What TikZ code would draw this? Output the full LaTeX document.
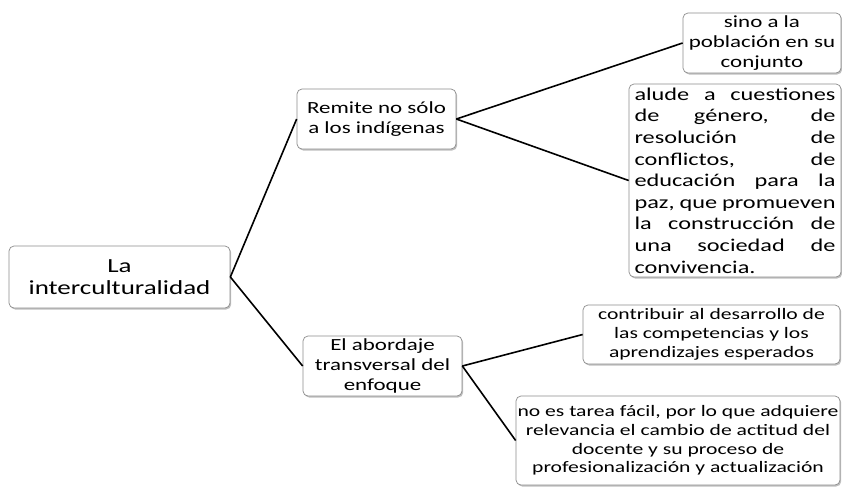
\documentclass[tikz,border=0pt]{standalone}
\usepackage{fontspec}
\setmainfont{Carlito}[FakeStretch=1.35]
\usetikzlibrary{shadows}
\tikzset{
  box/.style={draw=black!45, line width=0.7pt, fill=white, rounded corners=5pt,
    drop shadow={shadow xshift=1.2pt, shadow yshift=-1.5pt, opacity=0.25, fill=black},
    inner sep=0pt, align=center},
  link/.style={line width=1.6pt, black},
  fA/.style={font=\fontsize{20}{22}\selectfont},
  fB/.style={font=\fontsize{17}{19.8}\selectfont},
  fC/.style={font=\fontsize{16}{18.8}\selectfont},
  fD/.style={font=\fontsize{18}{21.6}\selectfont},
}
\newcommand{\jline}[1]{\makebox[201pt][s]{#1}}
\begin{document}
\begin{tikzpicture}[x=1pt,y=-1pt]
\useasboundingbox (0,0) rectangle (842,488);
\node[box, fA, minimum width=221pt, minimum height=62pt] (root) at (119.5,277) {La\\interculturalidad};
\node[box, fB, minimum width=159pt, minimum height=60pt] (remite) at (376.5,119) {Remite no sólo\\a los indígenas};
\node[box, fB, minimum width=158pt, minimum height=60pt] (sino) at (762,43) {sino a la\\población en su\\conjunto};
\node[box, fD, minimum width=212pt, minimum height=193pt, align=left] (alude) at (735,180.5)
 {\jline{alude a cuestiones}\\\jline{de género, de}\\\jline{resolución de}\\\jline{conflictos, de}\\\jline{educación para la}\\\jline{paz, que promueven}\\\jline{la construcción de}\\\jline{una sociedad de}\\convivencia.};
\node[box, fB, minimum width=159pt, minimum height=60pt] (abord) at (382.5,366) {El abordaje\\transversal del\\enfoque};
\node[box, fC, minimum width=257pt, minimum height=59pt] (contrib) at (711.5,334.5) {contribuir al desarrollo de\\las competencias y los\\aprendizajes esperados};
\node[box, fC, minimum width=324pt, minimum height=89pt] (noes) at (678,440.5) {no es tarea fácil, por lo que adquiere\\relevancia el cambio de actitud del\\docente y su proceso de\\profesionalización y actualización};
\draw[link] (root.east) -- (remite.west);
\draw[link] (root.east) -- (abord.west);
\draw[link] (remite.east) -- (sino.west);
\draw[link] (remite.east) -- (alude.west);
\draw[link] (abord.east) -- (contrib.west);
\draw[link] (abord.east) -- (noes.west);
\end{tikzpicture}
\end{document}
